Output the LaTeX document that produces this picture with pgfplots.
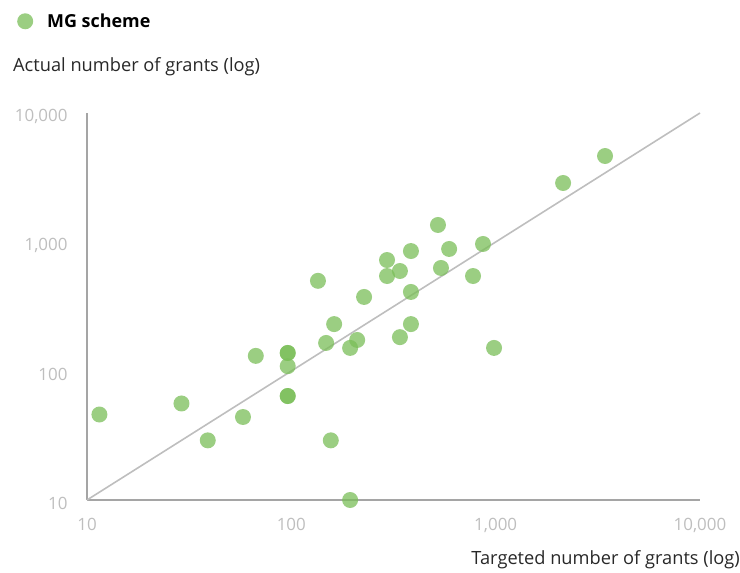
\documentclass[border=0pt]{standalone}
\usepackage{fontspec}
\setmainfont{Open Sans}
\usepackage{pgfplots}
\pgfplotsset{compat=1.18}
\definecolor{ptgreen}{RGB}{122,190,88}
\definecolor{axgray}{RGB}{165,165,165}
\definecolor{tickgray}{RGB}{190,190,190}
\definecolor{diaggray}{RGB}{190,190,190}
\definecolor{titlegray}{RGB}{40,40,40}
\pgfplotstableread{
x y
11.5 46
29 56
39 29
58 44
67 131
96 138
96 138
96 109
96 64
96 64
135 500
156 29
148 165
162 231
194 151
194 10
210 174
227 375
294 725
294 545
340 596
340 183
385 851
385 410
385 231
522 1355
592 883
540 629
775 545
867 965
982 151
2138 2867
3430 4641
}\datatable
\begin{document}
\begin{tikzpicture}
\path[use as bounding box] (0bp,0bp) rectangle (740bp,-573bp);
\begin{axis}[
  at={(87bp,-500bp)}, anchor=south west,
  scale only axis, width=613bp, height=387bp,
  xmode=log, ymode=log,
  xmin=10, xmax=10000, ymin=10, ymax=10000,
  axis x line*=bottom, axis y line*=left,
  axis line style={axgray, line width=2bp},
  major tick length=0pt, minor tick length=0pt,
  minor xtick={}, minor ytick={},
  xtick={10,100,1000,10000}, xticklabels={10,100,{1,000},{10,000}},
  ytick={10,100,1000,10000}, yticklabels={10,100,{1,000},{10,000}},
  ticklabel style={font=\fontsize{17}{20}\selectfont, text=tickgray},
  xticklabel style={yshift=-15bp},
  yticklabel style={xshift=-16bp, yshift=-3bp},
  clip=false,
  legend style={at={(axis description cs:-0.1142,1.237)}, anchor=west, draw=none, fill=none,
    inner sep=0pt, font=\bfseries\fontsize{18}{21}\selectfont,
    nodes={inner xsep=14bp}},
  legend image code/.code={\draw[#1] plot coordinates {(0bp,0bp)};},
]
\addplot[diaggray, line width=1.6bp, forget plot] coordinates {(10,10) (10000,10000)};
\addplot[only marks, mark=*, mark size=8bp, color=ptgreen, mark options={draw opacity=0, fill=ptgreen, fill opacity=0.75}] table[x=x,y=y] {\datatable};
\addlegendentry{MG scheme}
\end{axis}
\node[anchor=west, text=titlegray, font=\fontsize{18.3}{21}\selectfont, inner sep=0pt] at (13bp,-67bp) {Actual number of grants (log)};
\node[anchor=east, text=titlegray, font=\fontsize{18.3}{21}\selectfont, inner sep=0pt] at (740bp,-560bp) {Targeted number of grants (log)};
\end{tikzpicture}
\end{document}
